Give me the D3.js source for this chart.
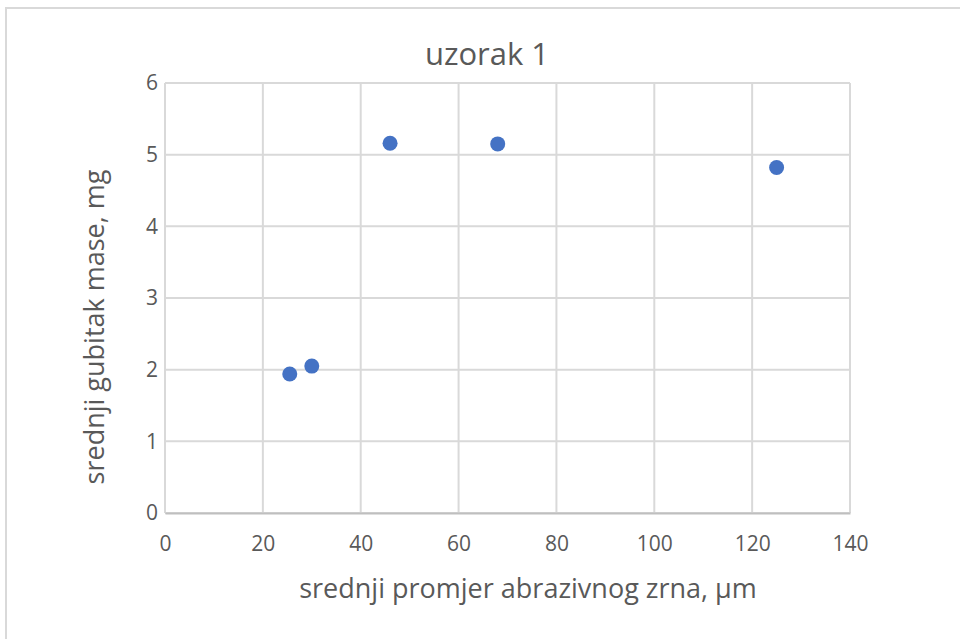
<!DOCTYPE html>
<html>
<head>
<meta charset="utf-8">
<script src="https://cdn.jsdelivr.net/npm/d3@7"></script>
<style>
  html, body { margin: 0; padding: 0; background: #fff; }
  svg { display: block; font-family: "Open Sans", "Noto Sans", sans-serif; }
</style>
</head>
<body>
<svg id="chart" width="960" height="639"></svg>
<script>
// Mean abrasive grain diameter (µm) and mean mass loss (mg)
const grainSize = [25.5, 30, 46, 68, 125];
const massLoss = [1.94, 2.05, 5.16, 5.15, 4.82];
const xTicks = [0, 20, 40, 60, 80, 100, 120, 140];
const yTicks = [0, 1, 2, 3, 4, 5, 6];

const titleText = "uzorak 1";
const xLabel = "srednji promjer abrazivnog zrna, \u00b5m";
const yLabel = "srednji gubitak mase, mg";

const svg = d3.select("#chart");
const margin = { left: 165, right: 110, top: 83, bottom: 126 };
const W = 960, H = 639;

const x = d3.scaleLinear().domain([0, 140]).range([margin.left, W - margin.right]);
const y = d3.scaleLinear().domain([0, 6]).range([H - margin.bottom, margin.top]);

const textColor = "#595959";
const gridColor = "#d9d9d9";
const fontFamily = "'Open Sans', sans-serif";

// outer chart frame
svg.append("rect")
  .attr("x", 6).attr("y", 8)
  .attr("width", 980).attr("height", 660)
  .attr("fill", "none").attr("stroke", gridColor).attr("stroke-width", 2);

// gridlines
svg.append("g").selectAll("line").data(xTicks).join("line")
  .attr("x1", d => x(d)).attr("x2", d => x(d))
  .attr("y1", y(0)).attr("y2", y(6))
  .attr("stroke", gridColor).attr("stroke-width", 2);
svg.append("g").selectAll("line").data(yTicks).join("line")
  .attr("x1", x(0)).attr("x2", x(140))
  .attr("y1", d => y(d)).attr("y2", d => y(d))
  .attr("stroke", gridColor).attr("stroke-width", 2);

// x axis
const xAxis = svg.append("g")
  .attr("transform", `translate(0,${y(0)})`)
  .call(d3.axisBottom(x).tickValues(xTicks).tickFormat(d3.format("d"))
    .tickSize(0).tickPadding(23));
xAxis.select(".domain").attr("stroke", "#bfbfbf").attr("stroke-width", 2);
xAxis.selectAll("text").attr("fill", textColor)
  .style("font-size", "21px").style("font-family", fontFamily);

// y axis
const yAxis = svg.append("g")
  .attr("transform", `translate(${x(0)},0)`)
  .call(d3.axisLeft(y).tickValues(yTicks).tickFormat(d3.format("d"))
    .tickSize(0).tickPadding(7));
yAxis.select(".domain").remove();
yAxis.selectAll("text").attr("fill", textColor)
  .style("font-size", "21px").style("font-family", fontFamily);

// points
svg.append("g").selectAll("circle")
  .data(grainSize.map((g, i) => [g, massLoss[i]]))
  .join("circle")
  .attr("cx", d => x(d[0])).attr("cy", d => y(d[1]))
  .attr("r", 7.5).attr("fill", "#4472c4");

// title
svg.append("text")
  .attr("x", 487).attr("y", 65)
  .attr("text-anchor", "middle").attr("fill", textColor)
  .style("font-size", "31px")
  .text(titleText);

// axis titles
svg.append("text")
  .attr("x", 528).attr("y", 598)
  .attr("text-anchor", "middle").attr("fill", textColor)
  .style("font-size", "27px")
  .text(xLabel);

svg.append("text")
  .attr("transform", `translate(104,${(y(0) + y(6)) / 2 + 29}) rotate(-90)`)
  .attr("text-anchor", "middle").attr("fill", textColor)
  .style("font-size", "27px")
  .text(yLabel);
</script>
</body>
</html>
